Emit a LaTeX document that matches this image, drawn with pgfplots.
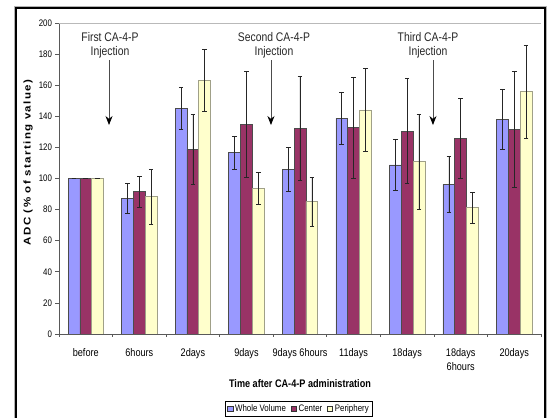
\documentclass[border=0pt]{standalone}
\usepackage{fontspec}
\setmainfont{Liberation Sans}[FakeStretch=0.83]
\newfontfamily\ylabfont{Liberation Sans}[LetterSpace=12]
\usepackage{pgfplots}
\pgfplotsset{compat=1.18}
\usepackage{pgfplotstable}
\usetikzlibrary{arrows.meta}
\definecolor{wvc}{HTML}{9999FF}
\definecolor{cec}{HTML}{993366}
\definecolor{pec}{HTML}{FFFFCC}
\definecolor{pebord}{HTML}{A0A088}

\pgfplotstableread{
x wv wve c ce p pe
0 100 0 100 0 100 0
1 87.3 9.7 91.5 9.7 88.3 17.8
2 145.1 13.6 118.8 22.4 163.3 19.8
3 116.6 10.7 135.0 34.0 93.7 10.4
4 106.1 14.0 132.3 33.5 85.1 15.7
5 138.7 17.0 132.9 32.5 144.1 26.6
6 108.7 16.3 130.5 33.7 110.8 30.5
7 96.3 17.8 125.8 25.5 81.2 10.0
8 138.1 19.5 131.6 37.5 155.8 30.0
}\data

\begin{document}
\begin{tikzpicture}
\path[use as bounding box] (0pt,0pt) rectangle (550pt,418pt);
\draw[gray!60, line width=0.6pt] (14pt,-5pt) -- (14pt,411.5pt) -- (546.5pt,411.5pt) -- (546.5pt,-5pt);
\draw[black, line width=2pt] (15.8pt,-5pt) -- (15.8pt,409.7pt) -- (544.5pt,409.7pt) -- (544.5pt,-5pt);
\begin{axis}[
  at={(59pt,84pt)}, anchor=south west,
  scale only axis, width=482pt, height=311pt,
  xmin=-0.5, xmax=8.5, ymin=0, ymax=200,
  enlargelimits=false,
  axis lines*=left,
  axis line style={-, black!65, line width=0.7pt},
  ybar=0pt, bar width=11.8pt,
  xtick={0,...,8},
  xticklabels={before,6hours,2days,9days,9days 6hours,11days,18days,{18days\\6hours},20days},
  xticklabel style={font=\fontsize{11}{14}\selectfont, align=center, yshift=-7pt},
  major x tick style={draw=none},
  minor xtick={-0.5,0.5,...,8.5},
  minor tick length=3pt,
  minor x tick style={black!65, line width=0.6pt},
  ytick={0,20,...,200},
  major tick length=3.5pt,
  tick align=outside,
  ytick style={black!65, line width=0.6pt},
  yticklabel style={font=\fontsize{9.5}{10}\selectfont},
  /pgf/number format/assume math mode=true,
  legend style={at={(0.498,-0.241)}, anchor=center, legend columns=-1, draw=black, line width=0.5pt,
    font=\fontsize{9.5}{10}\selectfont, inner xsep=2pt, inner ysep=1.5pt,
    /tikz/every even column/.append style={column sep=3pt}},
  error bars/y dir=both, error bars/y explicit,
  error bars/error bar style={black!85, line width=0.55pt},
  error bars/error mark options={rotate=90, mark size=2.3pt, black!85, line width=0.55pt},
]
\addplot[fill=wvc, draw=black!70, line width=0.6pt,
  legend image code/.code={\draw[fill=wvc, draw=black!80, line width=0.5pt] (0pt,-2.6pt) rectangle (5.2pt,2.6pt);}]
  table[x=x, y=wv, y error=wve] {\data};
\addplot[fill=cec, draw=black!70, line width=0.6pt,
  legend image code/.code={\draw[fill=cec, draw=black!80, line width=0.5pt] (0pt,-2.6pt) rectangle (5.2pt,2.6pt);}]
  table[x=x, y=c, y error=ce] {\data};
\addplot[fill=pec, draw=pebord, line width=0.6pt,
  legend image code/.code={\draw[fill=pec, draw=black!80, line width=0.5pt] (0pt,-2.6pt) rectangle (5.2pt,2.6pt);}]
  table[x=x, y=p, y error=pe] {\data};
\legend{Whole Volume, Center, Periphery}
\draw[gray!55, line width=0.6pt] (rel axis cs:0,1) -- (rel axis cs:1,1) -- (rel axis cs:1,0);
% annotations
\node[align=center, font=\fontsize{12.5}{14}\selectfont, text=black!85] at (axis cs:0.452,185.7) {First CA-4-P\\Injection};
\node[align=center, font=\fontsize{12.5}{14}\selectfont, text=black!85] at (axis cs:3.514,185.7) {Second CA-4-P\\Injection};
\node[align=center, font=\fontsize{12.5}{14}\selectfont, text=black!85] at (axis cs:6.39,185.7) {Third CA-4-P\\Injection};
\draw[black!70, line width=0.8pt, -{Stealth[length=9pt, width=7pt, black]}] (axis cs:0.434,176.2) -- (axis cs:0.434,134.4);
\draw[black!70, line width=0.8pt, -{Stealth[length=9pt, width=7pt, black]}] (axis cs:3.458,176.2) -- (axis cs:3.458,134.4);
\draw[black!70, line width=0.8pt, -{Stealth[length=9pt, width=7pt, black]}] (axis cs:6.483,176.2) -- (axis cs:6.483,134.4);
\end{axis}
\node[font=\bfseries\fontsize{11}{12}\selectfont] at (300pt,34pt) {Time after CA-4-P administration};
\node[rotate=90, font=\ylabfont\bfseries\fontsize{11.5}{12}\selectfont] at (28pt,255.5pt) {\scalebox{1}[0.85]{ADC (\% of starting value)}};
\end{tikzpicture}
\end{document}
